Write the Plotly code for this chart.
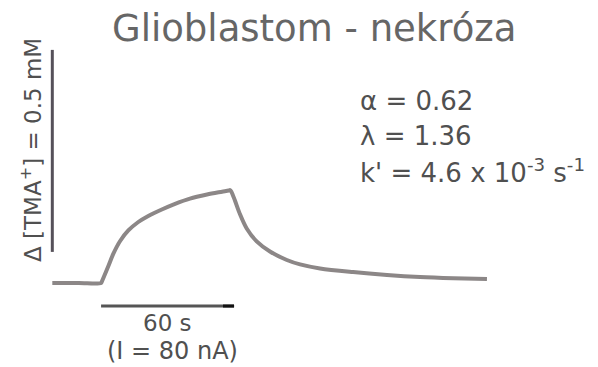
import plotly.graph_objects as go

# Time course of TMA+ concentration during and after iontophoresis (s, mM)
time_s = [-22.0, -10.0, 0.0, 0.3, 3.3, 5.5, 8.6, 12.3, 16.8, 21.3, 27.4,
          33.4, 40.1, 47.8, 54.6, 57.6, 58.2,
          58.8, 60.4, 62.7, 65.7, 70.2, 76.2, 83.8, 89.8, 98.8, 113.7, 129.0,
          143.9, 159.0, 174.1]
conc_mM = [0.0, 0.0, 0.0, 0.003, 0.042, 0.072, 0.104, 0.130, 0.151, 0.166, 0.182,
           0.196, 0.209, 0.219, 0.226, 0.229, 0.230,
           0.226, 0.204, 0.170, 0.135, 0.103, 0.078, 0.057, 0.046, 0.036, 0.027, 0.020,
           0.015, 0.012, 0.010]

# Scale bars: 0.5 mM concentration, 60 s current pulse
conc_bar_mM = [0.077, 0.577]
conc_bar_t = -22.0
time_bar_s = [0.0, 60.0]
time_bar_c = -0.057

title_text = "Glioblastom - nekróza"
param_lines = ["α = 0.62", "λ = 1.36", "k' = 4.6 x 10<sup>-3</sup> s<sup>-1</sup>"]
conc_label = "Δ [TMA<sup>+</sup>] = 0.5 mM"
time_label = ["60 s", "(I = 80 nA)"]

text_color = "#505050"
font_body = "DejaVu Sans, Verdana, sans-serif"

fig = go.Figure()

fig.add_trace(go.Scatter(
    x=time_s, y=conc_mM, mode="lines",
    line=dict(color="#8c8787", width=4, shape="spline", smoothing=0.9),
    hoverinfo="skip", showlegend=False,
))

# vertical concentration scale bar
fig.add_trace(go.Scatter(
    x=[conc_bar_t, conc_bar_t], y=conc_bar_mM, mode="lines",
    line=dict(color="#56515a", width=3), hoverinfo="skip", showlegend=False,
))

# horizontal time scale bar with dark tip
fig.add_trace(go.Scatter(
    x=time_bar_s, y=[time_bar_c, time_bar_c], mode="lines",
    line=dict(color="#555555", width=3), hoverinfo="skip", showlegend=False,
))
fig.add_trace(go.Scatter(
    x=[time_bar_s[1] - 5, time_bar_s[1]], y=[time_bar_c, time_bar_c], mode="lines",
    line=dict(color="#111111", width=3), hoverinfo="skip", showlegend=False,
))

annotations = [
    dict(text=title_text, x=314 / 598, y=1 - 29 / 367, xref="paper", yref="paper",
         showarrow=False, xanchor="center", yanchor="middle",
         font=dict(family="DejaVu Sans, sans-serif", size=37, color="#666666")),
    dict(text=conc_label, x=31 / 598, y=1 - 150 / 367, xref="paper", yref="paper",
         showarrow=False, textangle=-90, xanchor="center", yanchor="middle",
         font=dict(family=font_body, size=23, color=text_color)),
    dict(text=time_label[0], x=sum(time_bar_s) / 2, y=time_bar_c, xref="x", yref="y",
         showarrow=False, xanchor="center", yanchor="top", yshift=-2,
         font=dict(family=font_body, size=23, color=text_color)),
    dict(text=time_label[1], x=sum(time_bar_s) / 2 + 2, y=time_bar_c, xref="x", yref="y",
         showarrow=False, xanchor="center", yanchor="top", yshift=-29,
         font=dict(family=font_body, size=24, color=text_color)),
]
for i, line in enumerate(param_lines):
    annotations.append(dict(
        text=line, x=358 / 598, y=1 - (101 + 35 * i) / 367, xref="paper", yref="paper",
        showarrow=False, xanchor="left", yanchor="middle",
        font=dict(family=font_body, size=26, color=text_color),
    ))

fig.update_layout(
    width=598, height=367,
    margin=dict(l=0, r=0, t=0, b=0),
    paper_bgcolor="white", plot_bgcolor="white",
    xaxis=dict(range=[-45.6, 224.2], visible=False, fixedrange=True),
    yaxis=dict(range=[-0.2079, 0.7005], visible=False, fixedrange=True),
    annotations=annotations,
)

fig.write_html("out.html")
